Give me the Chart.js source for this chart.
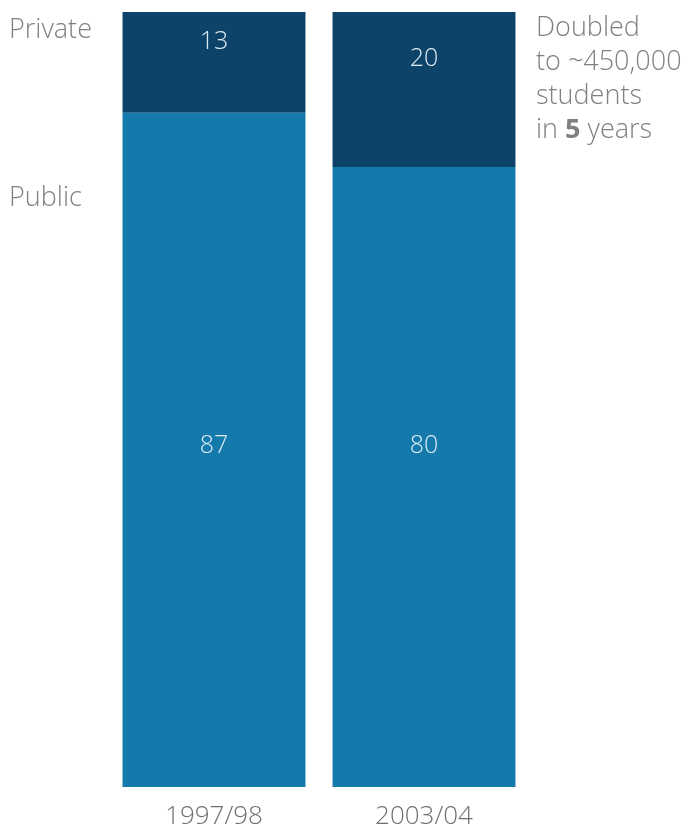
<!DOCTYPE html>
<html>
<head>
<meta charset="utf-8">
<script src="https://cdn.jsdelivr.net/npm/chart.js@4"></script>
<style>
  html, body { margin: 0; padding: 0; background: #fff; }
  #wrap { width: 697px; height: 829px; }
</style>
</head>
<body>
<div id="wrap"><canvas id="grafico"></canvas></div>
<script>
const years = ['1997/98', '2003/04'];
const publicShare = [87, 80];
const privateShare = [13, 20];
const noteLines = ['Doubled', 'to ~450,000', 'students', 'in 5 years'];

const FONT = '"Open Sans", "DejaVu Sans", sans-serif';

// side labels, value labels and the note on the right
const labelsPlugin = {
  id: 'labelsPlugin',
  afterDatasetsDraw(chart) {
    const ctx = chart.ctx;
    const y = chart.scales.y;
    ctx.save();
    ctx.font = '300 25px ' + FONT;
    ctx.fillStyle = '#dceaf4';
    ctx.textAlign = 'center';
    ctx.textBaseline = 'middle';
    chart.getDatasetMeta(0).data.forEach((bar, i) => {
      ctx.fillText(String(publicShare[i]), bar.x, y.getPixelForValue(44));
    });
    chart.getDatasetMeta(1).data.forEach((bar, i) => {
      ctx.fillText(String(privateShare[i]), bar.x, bar.y + (bar.base - bar.y) * 0.3);
    });

    ctx.fillStyle = '#808080';
    ctx.textAlign = 'left';
    ctx.font = '300 27px ' + FONT;
    ctx.fillText('Private', 9, 30);
    ctx.fillText('Public', 9, 198);

    const nx = chart.chartArea.right + 7;
    noteLines.forEach((line, k) => {
      const ly = 28 + k * 34;
      if (line.indexOf('5') === 3) {
        ctx.fillText('in ', nx, ly);
        let w = ctx.measureText('in ').width;
        ctx.font = 'bold 27px ' + FONT;
        ctx.fillText('5', nx + w, ly);
        w += ctx.measureText('5').width;
        ctx.font = '300 27px ' + FONT;
        ctx.fillText(' years', nx + w, ly);
      } else {
        ctx.fillText(line, nx, ly);
      }
    });
    ctx.restore();
  }
};

new Chart(document.getElementById('grafico'), {
  type: 'bar',
  data: {
    labels: years,
    datasets: [
      { label: 'Public', data: publicShare, backgroundColor: '#137aab' },
      { label: 'Private', data: privateShare, backgroundColor: '#0d4368' }
    ]
  },
  options: {
    responsive: true,
    maintainAspectRatio: false,
    animation: false,
    layout: { padding: { left: 109, right: 168, top: 12, bottom: 0 } },
    datasets: { bar: { categoryPercentage: 1, barPercentage: 0.871 } },
    scales: {
      x: {
        stacked: true,
        grid: { display: false },
        border: { display: false },
        ticks: { color: '#707070', font: { family: FONT, size: 26, weight: '300' }, padding: 6 },
        afterFit(scale) { scale.height = 42; }
      },
      y: { stacked: true, min: 0, max: 100, display: false }
    },
    plugins: {
      legend: { display: false },
      tooltip: { enabled: false }
    }
  },
  plugins: [labelsPlugin]
});
</script>
</body>
</html>
